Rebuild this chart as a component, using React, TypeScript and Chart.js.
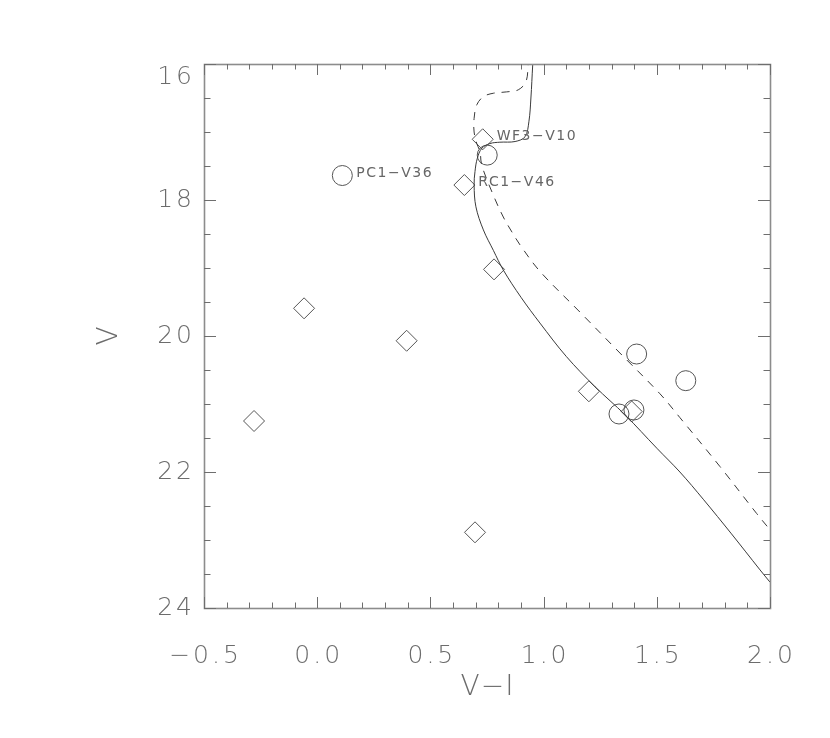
import React, { useEffect, useRef } from 'react';
import { Chart, registerables } from 'chart.js';

Chart.register(...registerables);

// Observed stars (diamonds)
const diamondX = [-0.279, -0.058, 0.395, 0.697, 0.781, 1.200, 1.389, 0.650, 0.731];
const diamondY = [21.25, 19.593, 20.07, 22.887, 19.02, 20.813, 21.11, 17.78, 17.107];
const diamondLabels = ['', '', '', '', '', '', '', 'RC1−V46', 'WF3−V10'];

// Observed stars (circles)
const circleX = [0.111, 0.751, 1.411, 1.628, 1.333, 1.399];
const circleY = [17.64, 17.34, 20.265, 20.657, 21.147, 21.088];
const circleLabels = ['PC1−V36', '', '', '', '', ''];

// Isochrone (solid)
const solidX = [0.955, 0.952, 0.944, 0.935, 0.918, 0.874, 0.807, 0.763, 0.727, 0.707, 0.697, 0.693, 0.701, 0.734, 0.778, 0.822, 0.90, 0.984, 1.10, 1.227, 1.36, 1.50, 1.602, 1.705, 1.83, 1.956, 2.0];
const solidY = [15.90, 16.01, 16.50, 16.85, 17.07, 17.14, 17.15, 17.17, 17.24, 17.39, 17.58, 17.78, 18.10, 18.44, 18.74, 19.03, 19.43, 19.81, 20.30, 20.745, 21.16, 21.65, 22.00, 22.40, 22.91, 23.44, 23.62];

// Isochrone (dashed)
const dashedX = [0.935, 0.932, 0.922, 0.888, 0.837, 0.778, 0.734, 0.705, 0.693, 0.693, 0.705, 0.719, 0.727, 0.778, 0.822, 0.86, 0.90, 0.984, 1.161, 1.337, 1.514, 1.602, 1.779, 1.941, 2.0];
const dashedY = [15.90, 16.01, 16.26, 16.38, 16.41, 16.43, 16.48, 16.60, 16.80, 17.00, 17.17, 17.29, 17.49, 17.93, 18.25, 18.47, 18.68, 19.05, 19.65, 20.25, 20.85, 21.20, 21.92, 22.61, 22.85];

// Axis ticks
const xMajorTicks = [-0.5, 0.0, 0.5, 1.0, 1.5, 2.0];
const xTickLabels = ['−0.5', '0.0', '0.5', '1.0', '1.5', '2.0'];
const xMinorStep = 0.1;
const yMajorTicks = [16, 18, 20, 22, 24];
const yTickLabels = ['16', '18', '20', '22', '24'];
const yMinorStep = 0.5;
const xTitle = 'V−I';
const yTitle = 'V';

const X_MIN = -0.5, X_MAX = 2.0, Y_MIN = 16, Y_MAX = 24;

const toPts = (xs: number[], ys: number[]) => xs.map((x, i) => ({ x, y: ys[i] }));

const FONT = '"DejaVu Sans", "Liberation Sans", sans-serif';

const decorPlugin = {
  id: 'decor',
  afterDatasetsDraw(chart: any) {
    const { ctx, chartArea: a, scales } = chart;
    const xs = scales.x, ys = scales.y;
    ctx.save();
    // frame
    ctx.strokeStyle = '#8c8c8c';
    ctx.lineWidth = 1.6;
    ctx.strokeRect(Math.round(a.left) + 0.5, Math.round(a.top) + 0.5, Math.round(a.right - a.left), Math.round(a.bottom - a.top));
    // ticks
    ctx.strokeStyle = '#6e6e6e';
    ctx.lineWidth = 1;
    const xTick = (v: number, len: number) => {
      const p = Math.round(xs.getPixelForValue(v)) + 0.5;
      ctx.beginPath();
      ctx.moveTo(p, a.bottom); ctx.lineTo(p, a.bottom - len);
      ctx.moveTo(p, a.top); ctx.lineTo(p, a.top + len);
      ctx.stroke();
    };
    const yTick = (v: number, len: number) => {
      const p = Math.round(ys.getPixelForValue(v)) + 0.5;
      ctx.beginPath();
      ctx.moveTo(a.left, p); ctx.lineTo(a.left + len, p);
      ctx.moveTo(a.right, p); ctx.lineTo(a.right - len, p);
      ctx.stroke();
    };
    for (let v = X_MIN; v <= X_MAX + 1e-9; v += xMinorStep) xTick(v, 5.5);
    xMajorTicks.forEach(v => xTick(v, 11));
    for (let v = Y_MIN; v <= Y_MAX + 1e-9; v += yMinorStep) yTick(v, 6.5);
    yMajorTicks.forEach(v => yTick(v, 12));

    // tick labels
    ctx.fillStyle = '#6c6c6c';
    ctx.font = '200 25px ' + FONT;
    (ctx as any).letterSpacing = '3px';
    ctx.textAlign = 'center';
    ctx.textBaseline = 'middle';
    xMajorTicks.forEach((v, i) => {
      ctx.fillText(xTickLabels[i], xs.getPixelForValue(v) + 1.5, a.bottom + 48);
    });
    ctx.textAlign = 'right';
    yMajorTicks.forEach((v, i) => {
      const shift = i === 0 ? 13 : 0;
      ctx.fillText(yTickLabels[i], a.left - 9, ys.getPixelForValue(v) + shift);
    });
    // titles
    ctx.font = '200 28px ' + FONT;
    (ctx as any).letterSpacing = '1px';
    ctx.textAlign = 'center';
    ctx.fillText(xTitle, (a.left + a.right) / 2 + 0.5, a.bottom + 80);
    ctx.save();
    ctx.translate(a.left - 94, (a.top + a.bottom) / 2);
    ctx.rotate(-Math.PI / 2);
    ctx.fillText(yTitle, 0.5, 0);
    ctx.restore();

    // point labels
    ctx.fillStyle = '#666666';
    ctx.font = '14px ' + FONT;
    (ctx as any).letterSpacing = '1.5px';
    ctx.textAlign = 'left';
    ctx.textBaseline = 'alphabetic';
    const labelSets: [number, string[]][] = [[2, diamondLabels], [3, circleLabels]];
    labelSets.forEach(([di, labels]) => {
      const meta = chart.getDatasetMeta(di);
      meta.data.forEach((el: any, j: number) => {
        if (labels[j]) ctx.fillText(labels[j], el.x + 14, el.y + 1);
      });
    });
    ctx.restore();
  },
};

export default function App() {
  const ref = useRef<HTMLCanvasElement | null>(null);
  useEffect(() => {
    if (!ref.current) return;
    const chart = new Chart(ref.current, {
      type: 'scatter',
      data: {
        datasets: [
          {
            label: 'solid', data: toPts(solidX, solidY), showLine: true, borderColor: '#3a3a3a', borderWidth: 1,
            pointRadius: 0, tension: 0.35, fill: false,
          },
          {
            label: 'dashed', data: toPts(dashedX, dashedY), showLine: true, borderColor: '#3a3a3a', borderWidth: 1,
            borderDash: [8, 7], pointRadius: 0, tension: 0.35, fill: false,
          },
          {
            label: 'diamonds', data: toPts(diamondX, diamondY), pointStyle: 'rectRot', pointRadius: 10.5,
            borderColor: '#555', backgroundColor: 'rgba(0,0,0,0)', borderWidth: 1, showLine: false,
          },
          {
            label: 'circles', data: toPts(circleX, circleY), pointStyle: 'circle', pointRadius: 10,
            borderColor: '#555', backgroundColor: 'rgba(0,0,0,0)', borderWidth: 1, showLine: false,
          },
        ],
      } as any,
      options: {
        animation: false,
        responsive: false,
        events: [],
        layout: { padding: { left: 204, right: 60, top: 64, bottom: 130 } },
        plugins: { legend: { display: false }, tooltip: { enabled: false } },
        scales: {
          x: { type: 'linear', min: X_MIN, max: X_MAX, display: false },
          y: { type: 'linear', min: Y_MIN, max: Y_MAX, reverse: true, display: false },
        },
      },
      plugins: [decorPlugin],
    });
    return () => chart.destroy();
  }, []);
  return (
    <div style={{ position: 'fixed', left: 0, top: 0, width: 830, height: 738, background: '#fff' }}>
      <canvas ref={ref} width={830} height={738} style={{ width: 830, height: 738 }} />
    </div>
  );
}
